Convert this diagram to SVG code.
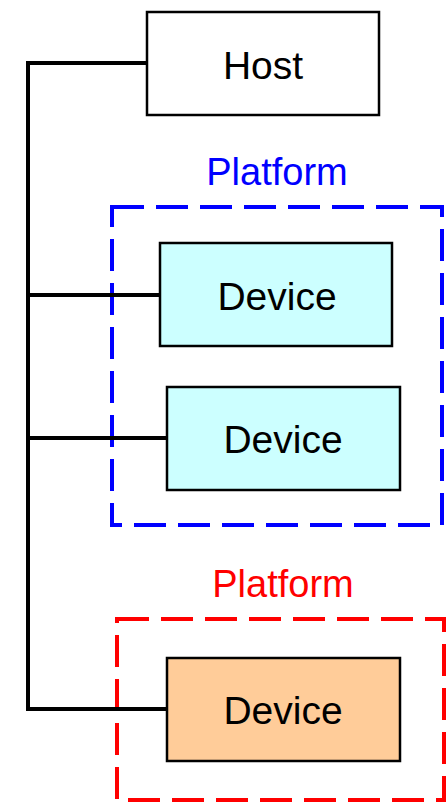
<svg xmlns="http://www.w3.org/2000/svg" width="446" height="804" viewBox="0 0 446 804">
<style>
.node{stroke:#000;stroke-width:2.5}
.lbl{font-family:"Liberation Sans",Arial,sans-serif;font-size:39px;text-anchor:middle;fill:#000}
.plat{fill:none;stroke-width:4;stroke-dasharray:32 12}
.ptxt{font-family:"Liberation Sans",Arial,sans-serif;font-size:38px;text-anchor:middle}
.conn{fill:none;stroke:#000;stroke-width:4}
</style>
<rect width="446" height="804" fill="#fff"/>
<g id="platform1">
<rect class="plat" x="112" y="207" width="330" height="318" stroke="#0000ff"/>
<text class="ptxt" x="277" y="185" fill="#0000ff">Platform</text>
</g>
<g id="platform2">
<rect class="plat" x="117" y="619" width="327" height="181" stroke="#ff0000"/>
<text class="ptxt" x="283" y="597" fill="#ff0000">Platform</text>
</g>
<g id="connectors">
<polyline class="conn" points="147,63 28,63 28,709 167,709"/>
<line class="conn" x1="28" y1="295" x2="159" y2="295"/>
<line class="conn" x1="28" y1="438" x2="167" y2="438"/>
</g>
<g id="host">
<rect class="node" x="147" y="12" width="232" height="103" fill="#fff"/>
<text class="lbl" x="263" y="79">Host</text>
</g>
<g id="device1">
<rect class="node" x="160" y="243" width="232" height="103" fill="#ccffff"/>
<text class="lbl" x="277" y="310">Device</text>
</g>
<g id="device2">
<rect class="node" x="167" y="387" width="233" height="103" fill="#ccffff"/>
<text class="lbl" x="283" y="453">Device</text>
</g>
<g id="device3">
<rect class="node" x="167" y="658" width="233" height="103" fill="#ffcc99"/>
<text class="lbl" x="283" y="724">Device</text>
</g>
</svg>
